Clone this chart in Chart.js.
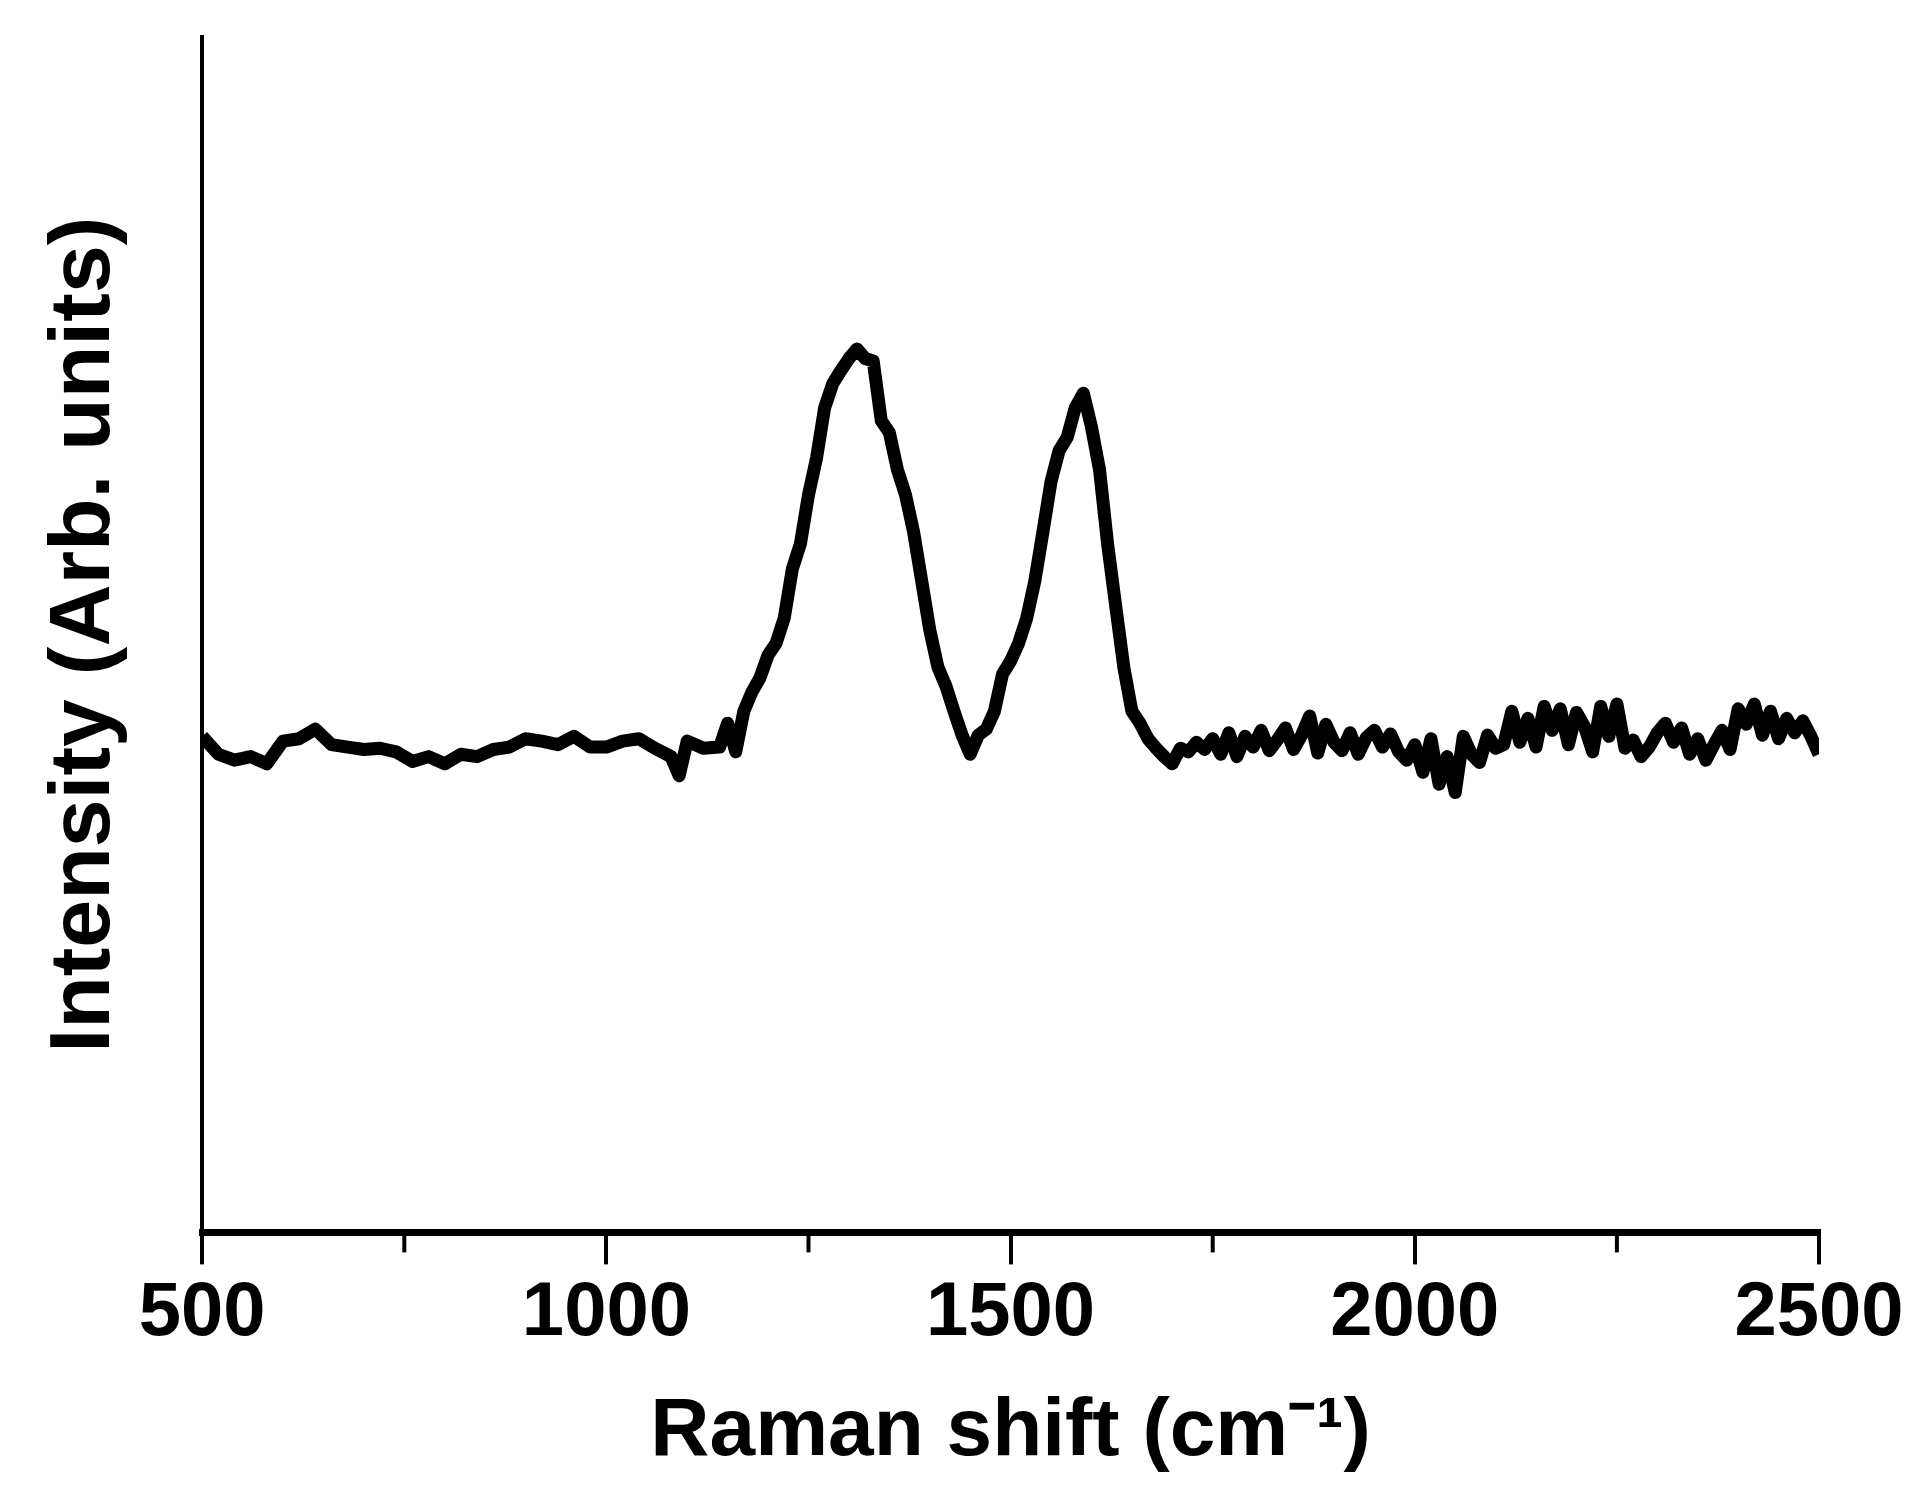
<!DOCTYPE html>
<html><head><meta charset="utf-8">
<script src="https://cdn.jsdelivr.net/npm/chart.js@4"></script>
<style>html,body{margin:0;padding:0;background:#fff}#wrap{width:1925px;height:1502px}</style>
</head><body><div id="wrap"><canvas id="c"></canvas></div>
<script>
const wavenumbers = [500,520,540,560,580,600,620,640,660,680,700,720,740,760,780,800,820,840,860,880,900,920,940,960,980,1000,1020,1040,1060,1080,1090,1100,1120,1140,1150,1160,1170,1180,1190,1200,1210,1220,1230,1240,1250,1260,1270,1280,1290,1300,1310,1320,1330,1340,1350,1360,1370,1380,1390,1400,1410,1420,1430,1440,1450,1460,1470,1480,1490,1500,1510,1520,1530,1540,1550,1560,1570,1580,1590,1600,1610,1620,1630,1640,1650,1660,1670,1680,1690,1700,1710,1720,1730,1740,1750,1760,1770,1780,1790,1800,1810,1820,1830,1840,1850,1860,1870,1880,1890,1900,1910,1920,1930,1940,1950,1960,1970,1980,1990,2000,2010,2020,2030,2040,2050,2060,2070,2080,2090,2100,2110,2120,2130,2140,2150,2160,2170,2180,2190,2200,2210,2220,2230,2240,2250,2260,2270,2280,2290,2300,2310,2320,2330,2340,2350,2360,2370,2380,2390,2400,2410,2420,2430,2440,2450,2460,2470,2480,2490,2500];
const intensity = [41.5,40.0,39.5,39.8,39.2,41.1,41.3,42.1,40.8,40.6,40.4,40.5,40.2,39.4,39.8,39.2,40.0,39.8,40.4,40.6,41.3,41.1,40.8,41.5,40.6,40.6,41.1,41.3,40.5,39.8,38.2,41.1,40.5,40.6,42.6,40.2,43.6,45.2,46.4,48.3,49.3,51.4,55.5,57.6,61.7,64.8,69.0,71.0,72.1,73.1,73.9,73.1,72.9,67.9,66.9,63.8,61.7,58.6,54.5,50.4,47.3,45.7,43.6,41.6,40.0,41.6,42.1,43.6,46.7,47.8,49.3,51.4,54.5,58.6,62.8,65.4,66.5,69.0,70.2,67.4,63.8,57.6,52.4,47.3,43.6,42.6,41.3,40.5,39.8,39.2,40.5,40.2,41.0,40.4,41.3,40.0,41.8,39.8,41.5,40.6,42.0,40.3,41.2,42.2,40.4,41.6,43.2,40.1,42.5,41.0,40.3,41.8,40.0,41.4,42.0,40.6,41.7,40.2,39.5,40.8,38.5,41.3,37.5,39.8,36.8,41.5,40.0,39.3,41.6,40.5,40.8,43.6,41.0,43.0,40.6,44.0,42.0,43.8,40.8,43.5,42.3,40.2,44.0,41.5,44.2,40.5,41.2,39.8,40.6,41.8,42.6,41.0,42.2,40.0,41.3,39.5,40.8,42.0,40.4,43.8,42.5,44.2,41.6,43.6,41.3,43.0,41.8,42.8,41.5,40.0];
const xTicks = [500,1000,1500,2000,2500];
const minorTicks = [750,1250,1750,2250];

const minorPlugin = {
  id:'minor',
  afterDraw(chart){
    const ctx=chart.ctx, xs=chart.scales.x, y0=chart.chartArea.bottom;
    ctx.save(); ctx.strokeStyle='#000'; ctx.lineWidth=4;
    minorTicks.forEach(v=>{const px=xs.getPixelForValue(v);ctx.beginPath();ctx.moveTo(px,y0);ctx.lineTo(px,y0+20);ctx.stroke();});
    ctx.restore();
  }
};

new Chart(document.getElementById('c'),{
  type:'line',
  data:{datasets:[{data:wavenumbers.map((x,i)=>({x,y:intensity[i]})),borderColor:'#000',borderWidth:13,pointRadius:0,tension:0,fill:false,borderJoinStyle:'round'}]},
  options:{
    responsive:true,maintainAspectRatio:false,animation:false,
    layout:{padding:{left:30,right:106,top:37,bottom:16}},
    plugins:{legend:{display:false},tooltip:{enabled:false}},
    scales:{
      x:{type:'linear',min:500,max:2500,
        afterBuildTicks:s=>{s.ticks=xTicks.map(v=>({value:v}));},
        border:{display:true,color:'#000',width:7},
        grid:{display:true,drawOnChartArea:false,drawTicks:true,tickLength:32,color:'#000',lineWidth:4},
        ticks:{color:'#000',font:{family:'Liberation Sans',size:76,weight:'bold'},padding:4,maxRotation:0,callback:v=>String(v)},
        title:{display:true,text:'Raman shift (cm\u207B\u00B9)',color:'#000',font:{family:'Liberation Sans',size:82,weight:'bold'},padding:{top:20}}
      },
      y:{min:0,max:100,
        border:{display:true,color:'#000',width:4},
        grid:{display:false,drawTicks:false},
        ticks:{display:false},
        title:{display:true,text:'Intensity (Arb. units)',color:'#000',font:{family:'Liberation Sans',size:86,weight:'bold'},padding:{bottom:65}}
      }
    }
  },
  plugins:[minorPlugin]
});
</script></body></html>
